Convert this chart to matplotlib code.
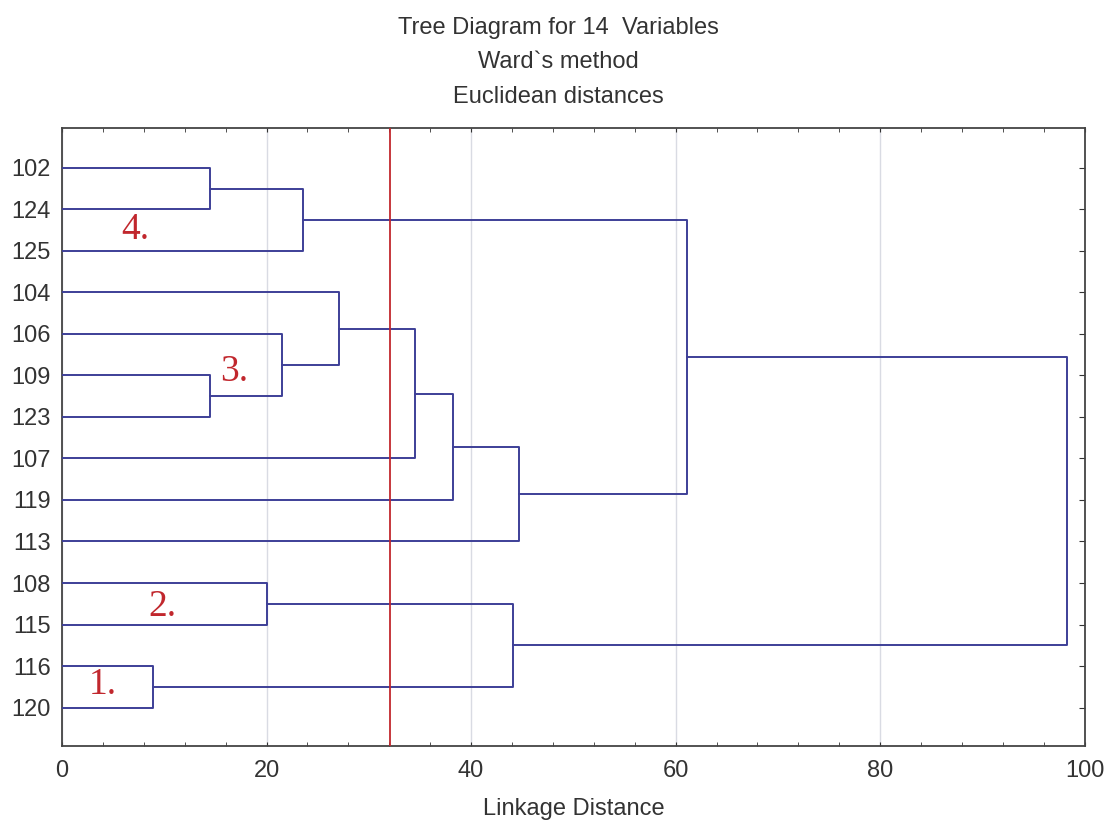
import numpy as np
import matplotlib.pyplot as plt
from matplotlib.ticker import MultipleLocator

# leaves, top to bottom
leaves = ['102', '124', '125', '104', '106', '109', '123',
          '107', '119', '113', '108', '115', '116', '120']

# merges: (node a, node b, linkage distance); new node ids start at 14
merge_a = [0, 14, 5, 4, 3, 18, 19, 20, 15, 10, 12, 23, 22]
merge_b = [1, 2, 6, 16, 17, 7, 8, 9, 21, 11, 13, 24, 25]
merge_h = [14.5, 23.6, 14.5, 21.5, 27.1, 34.5, 38.2, 44.7, 61.1, 20.0, 8.9, 44.1, 98.3]

cut = 32.1

group_names = ['1.', '2.', '3.', '4.']
group_x = [2.6, 8.4, 15.5, 5.8]
group_y = [13.46, 11.58, 5.92, 2.49]

line_col = '#3d3f97'
red = '#c1272d'

plt.rcParams['font.family'] = ['Liberation Sans', 'DejaVu Sans']

fig = plt.figure(figsize=(11.08, 8.25), dpi=100)
ax = fig.add_axes([0.056, 0.096, 0.923, 0.749])

# node positions
pos_y = list(range(1, len(leaves) + 1))
pos_x = [0.0] * len(leaves)
for a, b, h in zip(merge_a, merge_b, merge_h):
    ax.plot([pos_x[a], h, h, pos_x[b]], [pos_y[a], pos_y[a], pos_y[b], pos_y[b]],
            color=line_col, lw=1.4, zorder=3)
    pos_x.append(h)
    pos_y.append((pos_y[a] + pos_y[b]) / 2)

ax.axvline(cut, color=red, lw=1.3, zorder=4)

for name, gx, gy in zip(group_names, group_x, group_y):
    ax.text(gx, gy, name, color=red, fontsize=27, family='Liberation Serif',
            ha='left', va='center', zorder=5)

ax.set_xlim(0, 100)
ax.set_ylim(14.92, 0.04)
ax.set_xticks([0, 20, 40, 60, 80, 100])
ax.xaxis.set_minor_locator(MultipleLocator(4))
ax.grid(axis='x', color='#d9dbe3', lw=1)
ax.set_yticks(range(1, len(leaves) + 1))
ax.set_yticklabels(leaves)
ax.tick_params(axis='x', which='both', direction='in', top=True, length=3,
               labelsize=17, pad=10, colors='#333333', labelcolor='#333333')
ax.tick_params(axis='y', direction='in', left=False, right=True, length=4,
               labelsize=17, pad=8, labelcolor='#333333', color='#333333')
for s in ax.spines.values():
    s.set_color('#444444')
    s.set_linewidth(1.3)

ax.set_xlabel('Linkage Distance', fontsize=17, color='#333333', labelpad=12)
fig.text(0.504, 0.966, 'Tree Diagram for 14  Variables', ha='center', va='center',
         fontsize=17, color='#333333')
fig.text(0.504, 0.925, 'Ward`s method', ha='center', va='center',
         fontsize=17, color='#333333')
fig.text(0.504, 0.882, 'Euclidean distances', ha='center', va='center',
         fontsize=17, color='#333333')

fig.savefig('out.png', dpi=100)
